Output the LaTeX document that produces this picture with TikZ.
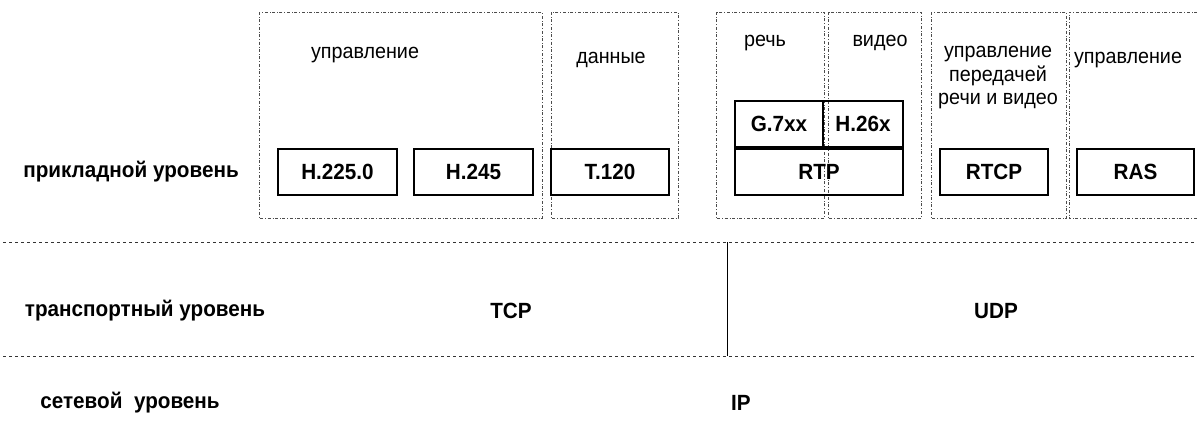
\documentclass[tikz,border=0pt]{standalone}
\usepackage{fontspec}
\setmainfont{Liberation Sans}[FakeStretch=0.94]
\usetikzlibrary{positioning}

\tikzset{
	area/.style={draw=black!70, dash dot, line width=0.8pt},
	proto/.style={draw, line width=2pt, inner sep=0pt, minimum height=46pt, font=\fontsize{22}{24}\selectfont\bfseries},
	level/.style={font=\fontsize{22}{24}\selectfont\bfseries},
	caption/.style={font=\fontsize{21}{23.5}\selectfont, align=center},
	border/.style={draw=black!80, dashed, line width=0.8pt}
}

\begin{document}
\begin{tikzpicture}[x=1pt, y=-1pt]
	\useasboundingbox (0,0) rectangle (1197,445);

	% dash-dot areas of the application level
	\draw[area] (259,12) rectangle (542,218);
	\draw[area] (551,12) rectangle (678,218);
	\draw[area] (716,12) rectangle (824,218);
	\draw[area] (828,12) rectangle (921,218);
	\draw[area] (931,12) rectangle (1066,218);
	\draw[area] (1197,12) -- (1069,12) -- (1069,218) -- (1197,218);

	\node[caption] (ctl) at (365,55) {управление};
	\node[caption] (dat) at (611,60) {данные};
	\node[caption] (sp) at (765,43) {речь};
	\node[caption] (vid) at (880,43) {видео};
	\node[caption, align=center] (rtctl) at (998,78) {управление\\передачей\\речи и видео};
	\node[caption] (ras-ctl) at (1128,60) {управление};

	% protocols
	\node[proto, minimum width=119pt] (h225) at (337.5,172) {H.225.0};
	\node[proto, minimum width=119pt] (h245) at (473.5,172) {H.245};
	\node[proto, minimum width=118pt] (t120) at (610,172) {T.120};
	\node[proto, minimum width=168pt] (rtp) at (819,172) {RTP};
	\node[proto, minimum width=88pt, above=0pt of rtp.north west, anchor=south west] (g7) {G.7xx};
	\node[proto, minimum width=80pt, above=0pt of rtp.north east, anchor=south east] (h26) {H.26x};
	\node[proto, minimum width=108pt] (rtcp) at (994,172) {RTCP};
	\node[proto, minimum width=117pt] (ras) at (1135.5,172) {RAS};

	% levels
	\node[level] (app) at (131,172) {прикладной уровень};
	\node[level] (trans) at (145,311) {транспортный уровень};
	\node[level] (net) at (130,403) {сетевой~~уровень};

	\node[level] (tcp) at (511,311) {TCP};
	\node[level] (udp) at (996,311) {UDP};
	\node[level] (ip) at (741,403) {IP};

	\coordinate (l1w) at (3,242);
	\coordinate (l1e) at (1195,242);
	\coordinate (l2w) at (3,356);
	\coordinate (l2e) at (1195,356);
	\draw[border] (l1w) -- (l1e);
	\draw[border] (l2w) -- (l2e);
	\draw[line width=0.8pt] (727,242) -- (727,356);
\end{tikzpicture}
\end{document}
